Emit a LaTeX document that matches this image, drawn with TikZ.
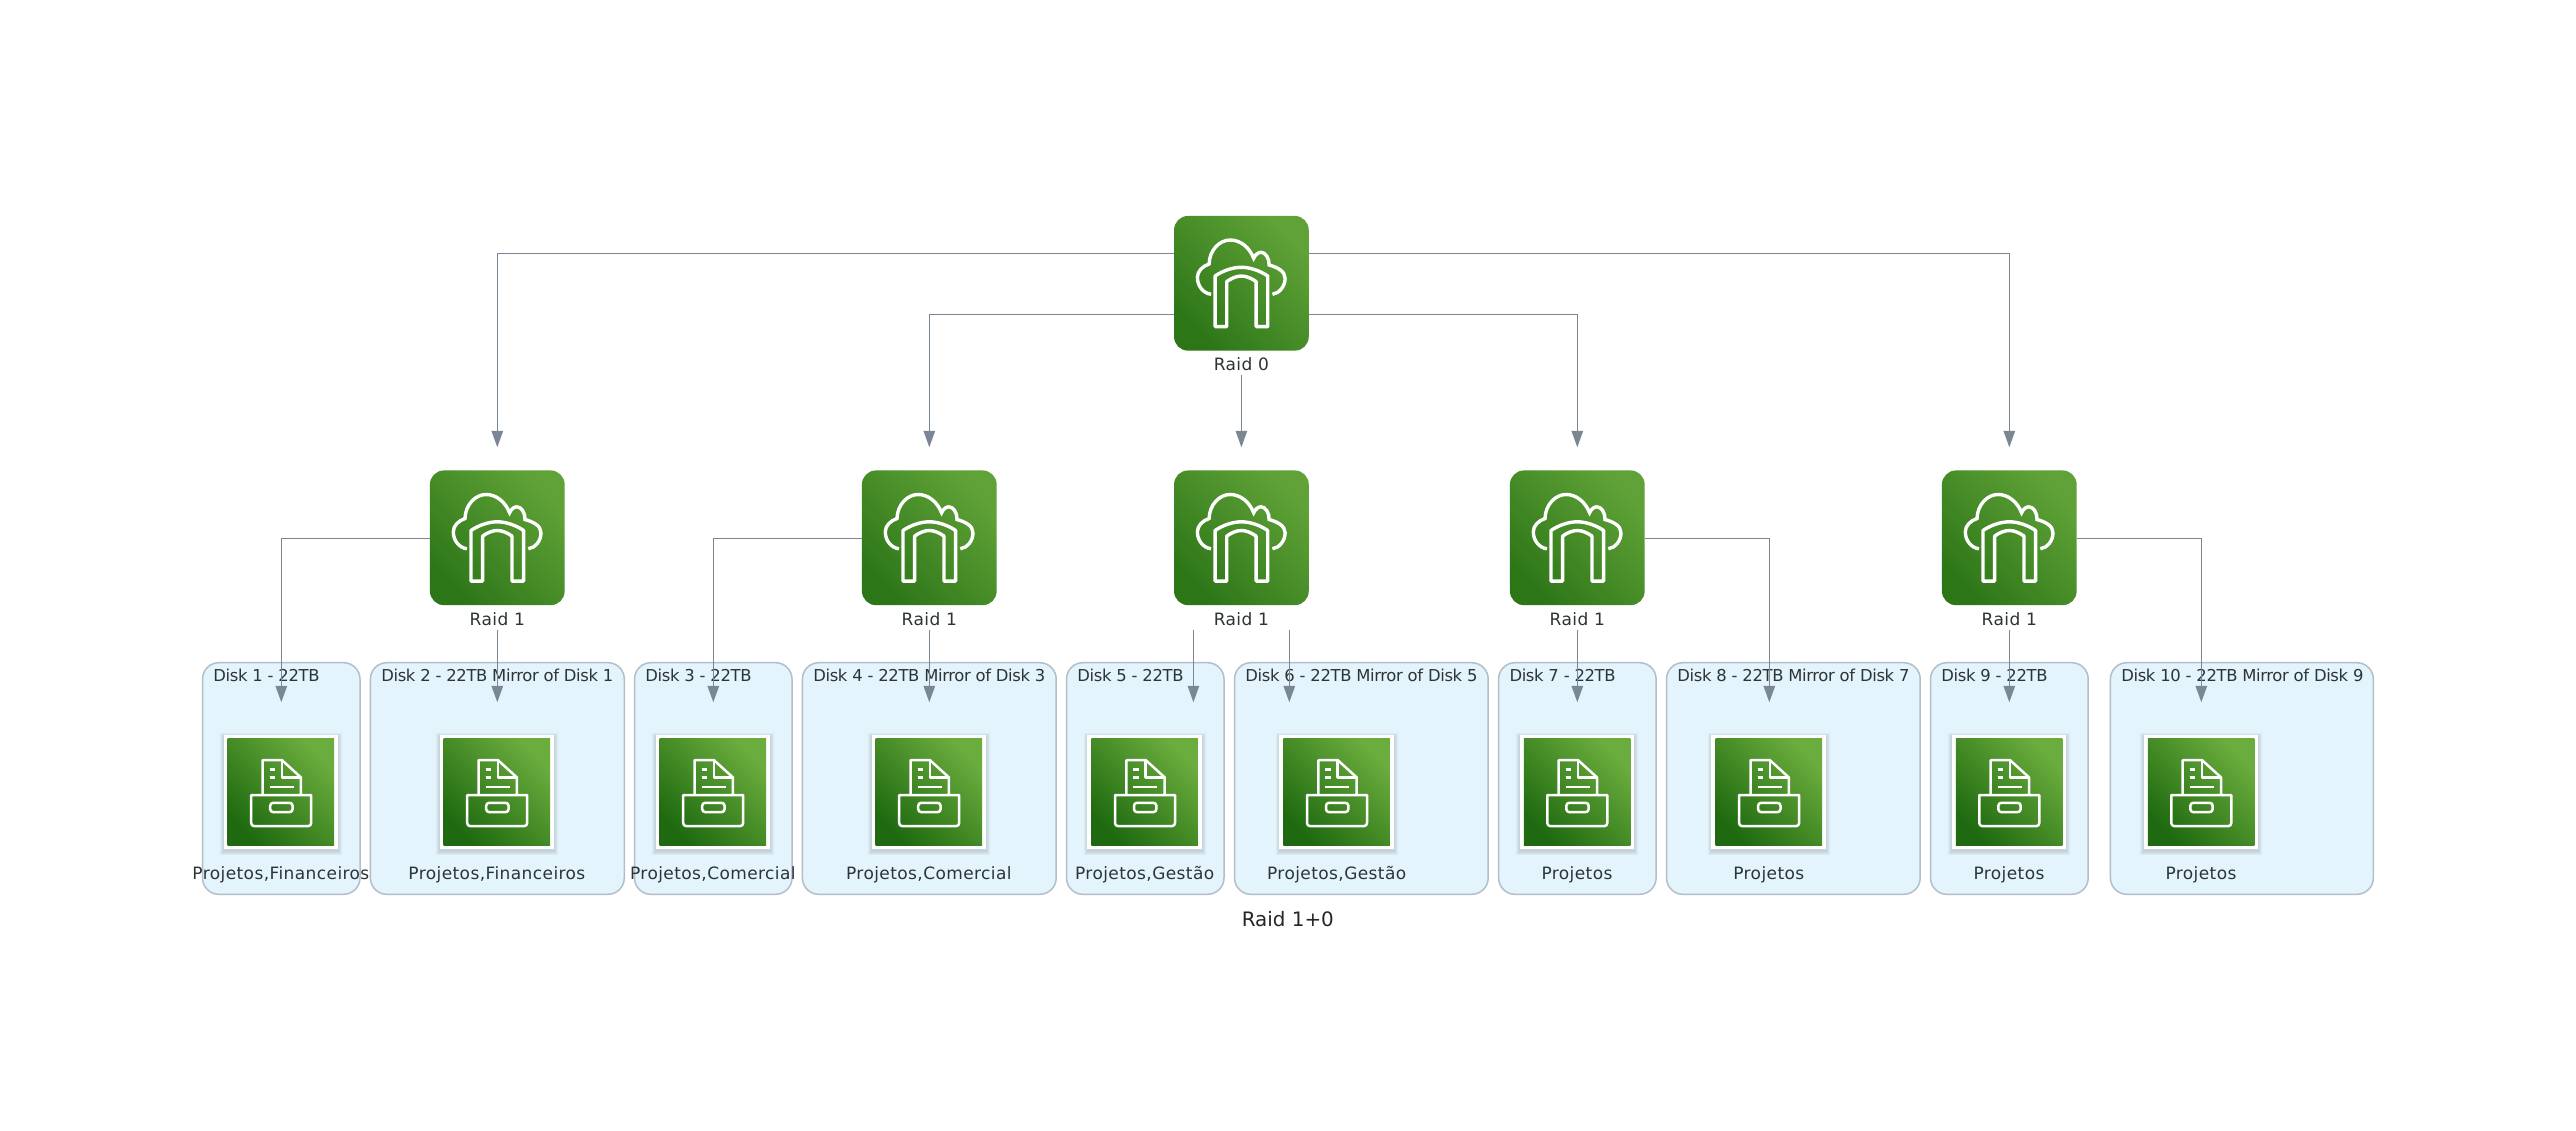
\documentclass[tikz,border=0pt]{standalone}
\usepackage{fontspec}
\setmainfont{DejaVu Sans}
\newfontfamily\labelfont[LetterSpace=2.4]{DejaVu Sans}
\newfontfamily\titlefont[LetterSpace=-2.2]{DejaVu Sans}
\usetikzlibrary{arrows.meta}
\definecolor{conncol}{HTML}{7B8794}
\definecolor{groupfill}{HTML}{E3F4FD}
\definecolor{groupline}{HTML}{B2BECA}
\definecolor{txt}{HTML}{2D3436}
\definecolor{raidlo}{HTML}{2D7618}
\definecolor{raidhi}{HTML}{60A237}
\definecolor{disklo}{HTML}{1F6A10}
\definecolor{diskhi}{HTML}{6AAC3D}
\tikzset{
  conn/.style={draw=conncol,line width=1.45pt,-{Triangle[length=16.4pt,width=11.4pt,fill=conncol]}},
  raidicon/.style={rectangle,rounded corners=14pt,minimum size=134.7pt,inner sep=0pt,outer sep=0pt,
     shading=axis,top color=raidhi,bottom color=raidlo,shading angle=-45},
  diskframe/.style={rectangle,fill=white,minimum size=114.7pt,inner sep=0pt,outer sep=0pt},
  diskicon/.style={rectangle,minimum size=106.5pt,inner sep=0pt,outer sep=0pt,
     shading=axis,top color=diskhi,bottom color=disklo,shading angle=-45},
  diskgroup/.style={rectangle,draw=groupline,fill=groupfill,line width=1.5pt,rounded corners=16.4pt,
     minimum height=231.6pt,inner sep=0pt,outer sep=0pt},
  smalltext/.style={font=\labelfont\fontsize{17}{20}\selectfont,text=txt,inner sep=0pt,anchor=base},
  titletext/.style={font=\titlefont\fontsize{16.4}{20}\selectfont,text=txt,inner sep=0pt,anchor=base west},
  bigtext/.style={font=\fontsize{19.9}{24}\selectfont,text=black!85,inner sep=0pt,anchor=base west},
  cloudicon/.pic={
    \draw[white,line width=3.4pt]
      (-30.3,11) .. controls (-38,10) and (-44,3) .. (-44,-6)
      .. controls (-44,-12) and (-39,-17) .. (-32.3,-19.3)
      .. controls (-32,-33) and (-22,-43.3) .. (-11.3,-43.3)
      .. controls (-1,-43.3) and (8,-36) .. (12.3,-25)
      .. controls (14,-29) and (17,-31) .. (19.7,-31)
      .. controls (24,-31) and (28,-25) .. (27.7,-18.3)
      .. controls (36,-16) and (43.7,-12) .. (43.7,-5)
      .. controls (43.7,3) and (38,10) .. (31,11);
    \draw[white,line width=3.4pt,line join=round]
      (-26.3,43.3) -- (-26.3,-7.3) .. controls (-18,-13) and (-8,-16) .. (0,-16)
      .. controls (8,-16) and (18,-13) .. (26.3,-7.3) -- (26.3,43.3) -- (14.7,43.3)
      -- (14.7,-1.7) .. controls (10,-5) and (5,-7.3) .. (0,-7.3)
      .. controls (-5,-7.3) and (-10,-5) .. (-14.7,-1.7) -- (-14.7,43.3) -- cycle;
  },
  drawericon/.pic={
    \begin{scope}[white,line width=2.5pt,line join=round]
    \draw (-18.3,3) -- (-18.3,-32) -- (1,-32) -- (20,-14.7) -- (20,3);
    \draw (1,-32) -- (1,-14.7) -- (20,-14.7);
    \draw (-11.3,-22.7) -- (-5.7,-22.7);
    \draw (-11.3,-14.7) -- (-5.7,-14.7);
    \draw (-11.3,-5.3) -- (12.7,-5.3);
    \draw (-29.7,3) -- (30.3,3) -- (30.3,31) arc[start angle=0,end angle=90,radius=3] -- (-26.7,34)
       arc[start angle=90,end angle=180,radius=3] -- cycle;
    \draw[rounded corners=3pt] (-10.7,10.7) rectangle (11.7,20);
    \end{scope}
  },
}
% #1 id, #2 left, #3 right, #4 icon centre x, #5 title, #6 caption
\newcommand{\diskbox}[6]{%
  \node[diskgroup,minimum width={#3pt-#2pt}] (g#1) at ({(#2+#3)/2},778.5) {};
  \node[titletext] (t#1) at (#2+10.7,681.7) {#5};
  \foreach \gr in {4,3,2,1}{%
    \fill[black!70,opacity=.05] ({#4-57.35-\gr+.5},{735-\gr+2}) rectangle ({#4+57.35+\gr-.5},{849.3+\gr+2});
  }
  \node[diskframe] (f#1) at (#4,792.1) {};
  \node[diskicon] (d#1) at (#4,792.1) {};
  \pic at (d#1.center) {drawericon};
  \node[smalltext] (c#1) at (#4,879) {#6};
}
\begin{document}
\begin{tikzpicture}[x=1pt,y=-1pt]
\useasboundingbox[fill=white] (0,0) rectangle (2576,1131);

\diskbox{1}{202.5}{360}{280.9}{Disk 1 - 22TB}{Projetos,Financeiros}
\diskbox{2}{370.4}{624.3}{496.9}{Disk 2 - 22TB Mirror of Disk 1}{Projetos,Financeiros}
\diskbox{3}{634.5}{792}{712.9}{Disk 3 - 22TB}{Projetos,Comercial}
\diskbox{4}{802.4}{1056.2}{928.9}{Disk 4 - 22TB Mirror of Disk 3}{Projetos,Comercial}
\diskbox{5}{1066.5}{1224}{1144.7}{Disk 5 - 22TB}{Projetos,Gestão}
\diskbox{6}{1234.5}{1488.2}{1336.7}{Disk 6 - 22TB Mirror of Disk 5}{Projetos,Gestão}
\diskbox{7}{1498.6}{1656.1}{1577}{Disk 7 - 22TB}{Projetos}
\diskbox{8}{1666.5}{1920.2}{1768.8}{Disk 8 - 22TB Mirror of Disk 7}{Projetos}
\diskbox{9}{1930.5}{2088.2}{2009}{Disk 9 - 22TB}{Projetos}
\diskbox{10}{2110.4}{2373.3}{2201}{Disk 10 - 22TB Mirror of Disk 9}{Projetos}

\node[raidicon] (r0) at (1241.4,283.3) {};
\node[raidicon] (r1) at (497.3,537.8) {};
\node[raidicon] (r2) at (929.3,537.8) {};
\node[raidicon] (r3) at (1241.4,537.8) {};
\node[raidicon] (r4) at (1577.3,537.8) {};
\node[raidicon] (r5) at (2009.3,537.8) {};
\foreach \n in {r0,r1,r2,r3,r4,r5} \pic at (\n.center) {cloudicon};

\node[smalltext] (l0) at (1241.4,370.3) {Raid 0};
\node[smalltext] (l1) at (497.3,625) {Raid 1};
\node[smalltext] (l2) at (929.3,625) {Raid 1};
\node[smalltext] (l3) at (1241.4,625) {Raid 1};
\node[smalltext] (l4) at (1577.3,625) {Raid 1};
\node[smalltext] (l5) at (2009.3,625) {Raid 1};
\node[bigtext] (caption) at (1241.6,926.7) {Raid 1+0};

% connector end points
\coordinate (s0) at (1241.4,375);
\coordinate (s1) at (497.3,629.7);
\coordinate (s2) at (929.3,629.7);
\coordinate (s3a) at (1193.4,629.7);
\coordinate (s3b) at (1289.3,629.7);
\coordinate (s4) at (1577.3,629.7);
\coordinate (s5) at (2009.3,629.7);
\coordinate (e1) at (497.3,447.3);
\coordinate (e2) at (929.3,447.3);
\coordinate (e3) at (1241.4,447.3);
\coordinate (e4) at (1577.3,447.3);
\coordinate (e5) at (2009.3,447.3);
\coordinate (a1) at (281.3,702.3);
\coordinate (a2) at (497.3,702.3);
\coordinate (a3) at (713.3,702.3);
\coordinate (a4) at (929.3,702.3);
\coordinate (a5) at (1193.4,702.3);
\coordinate (a6) at (1289.3,702.3);
\coordinate (a7) at (1577.3,702.3);
\coordinate (a8) at (1769.3,702.3);
\coordinate (a9) at (2009.3,702.3);
\coordinate (a10) at (2201.3,702.3);

\draw[conn] ([yshift=30pt]r0.west) -| (e1);
\draw[conn] ([yshift=-31.4pt]r0.west) -| (e2);
\draw[conn] (s0) -- (e3);
\draw[conn] ([yshift=-31.4pt]r0.east) -| (e4);
\draw[conn] ([yshift=30pt]r0.east) -| (e5);

\draw[conn] ([yshift=-0.6pt]r1.west) -| (a1);
\draw[conn] (s1) -- (a2);
\draw[conn] ([yshift=-0.6pt]r2.west) -| (a3);
\draw[conn] (s2) -- (a4);
\draw[conn] (s3a) -- (a5);
\draw[conn] (s3b) -- (a6);
\draw[conn] (s4) -- (a7);
\draw[conn] ([yshift=-0.6pt]r4.east) -| (a8);
\draw[conn] (s5) -- (a9);
\draw[conn] ([yshift=-0.6pt]r5.east) -| (a10);
\end{tikzpicture}
\end{document}
